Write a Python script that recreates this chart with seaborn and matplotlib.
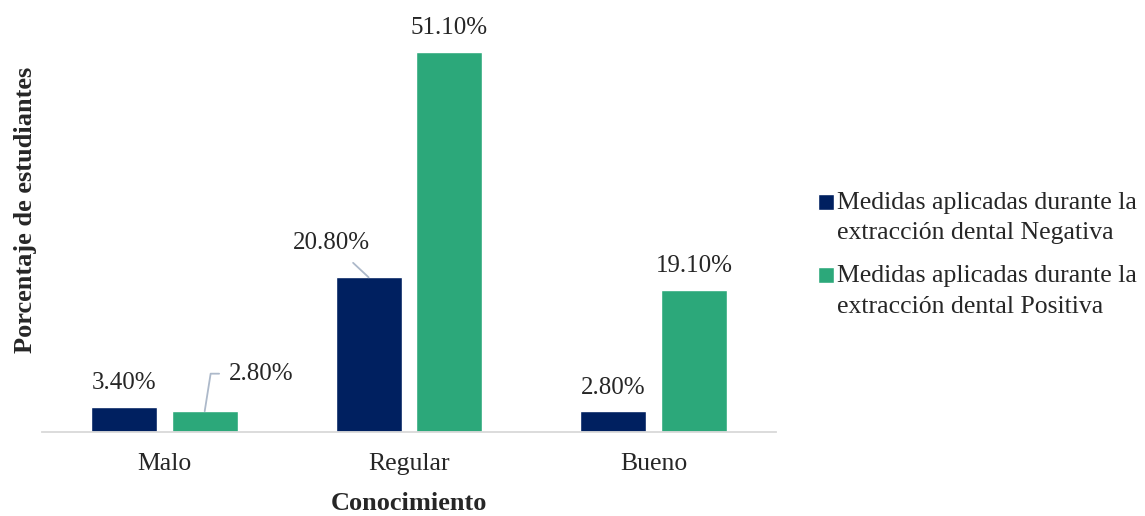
import matplotlib
matplotlib.use("Agg")
import matplotlib.pyplot as plt
from matplotlib.patches import Rectangle
from matplotlib.legend_handler import HandlerPatch
import seaborn as sns
import pandas as pd

categories = ["Malo", "Regular", "Bueno"]
series_names = ["Medidas aplicadas durante la\nextracción dental Negativa",
                "Medidas aplicadas durante la\nextracción dental Positiva"]
negativa = [3.4, 20.8, 2.8]
positiva = [2.8, 51.1, 19.1]
colors = ["#002060", "#2CA87A"]

df = pd.DataFrame({
    "Conocimiento": categories * 2,
    "Serie": [series_names[0]] * 3 + [series_names[1]] * 3,
    "Valor": negativa + positiva,
})

sns.set_theme(style="white")
plt.rcParams["font.family"] = ["Liberation Serif", "DejaVu Serif"]

fig = plt.figure(figsize=(11.45, 5.16), dpi=100)
ax = fig.add_axes([42 / 1145, (516 - 432) / 516, (776 - 42) / 1145, (432 - 20) / 516])

sns.barplot(data=df, x="Conocimiento", y="Valor", hue="Serie", order=categories,
            hue_order=series_names, palette=colors, width=0.66, gap=0.18,
            saturation=1, ax=ax, errorbar=None, legend=True)

ax.set_ylim(0, 55.4)
ax.set_yticks([])
ax.set_ylabel("Porcentaje de estudiantes", fontsize=19, fontweight="bold")
ax.yaxis.set_label_coords(-0.007, 0.539)
ax.set_xlabel("Conocimiento", fontsize=19, fontweight="bold", labelpad=12)
ax.tick_params(axis="x", labelsize=18.5, length=0, pad=15)
for s in ["top", "right", "left"]:
    ax.spines[s].set_visible(False)
ax.spines["bottom"].set_color("#D9D9D9")
ax.spines["bottom"].set_linewidth(1.3)

# data labels
for i, container in enumerate(ax.containers):
    vals = negativa if i == 0 else positiva
    for j, bar in enumerate(container):
        x = bar.get_x() + bar.get_width() / 2
        h = bar.get_height()
        txt = f"{vals[j]:.2f}%"
        if i == 0 and j == 1:
            ax.annotate(txt, xy=(x, h), xytext=(-26.6, 24.8), textcoords="offset points",
                        ha="center", va="center", fontsize=18,
                        arrowprops=dict(arrowstyle="-", color="#ADB9CA", lw=1.3,
                                        shrinkA=6, shrinkB=0))
        elif i == 1 and j == 0:
            ax.annotate(txt, xy=(x, h), xytext=(41, 27), textcoords="offset points",
                        ha="center", va="center", fontsize=18,
                        arrowprops=dict(arrowstyle="-", color="#ADB9CA", lw=1.3,
                                        shrinkA=5, shrinkB=0,
                                        connectionstyle="angle,angleA=0,angleB=81,rad=0"))
        else:
            ax.annotate(txt, xy=(x, h), xytext=(0, 17), textcoords="offset points",
                        ha="center", va="center", fontsize=18)


def top_square(legend, orig_handle, xdescent, ydescent, width, height, fontsize):
    size = width
    return Rectangle((-xdescent, -ydescent + height - size), size, size)


handles, labels = ax.get_legend_handles_labels()
if ax.legend_ is not None:
    ax.legend_.remove()
leg = fig.legend(handles, labels, loc="upper left",
                 bbox_to_anchor=(818 / 1145, (516 - 192) / 516),
                 frameon=False, fontsize=18.5,
                 handlelength=0.62, handleheight=2.6, handletextpad=0.12,
                 labelspacing=0.8, borderpad=0, borderaxespad=0,
                 handler_map={Rectangle: HandlerPatch(patch_func=top_square)})
for t in leg.get_texts():
    t.set_linespacing(1.5)

fig.savefig("out.png", dpi=100)
